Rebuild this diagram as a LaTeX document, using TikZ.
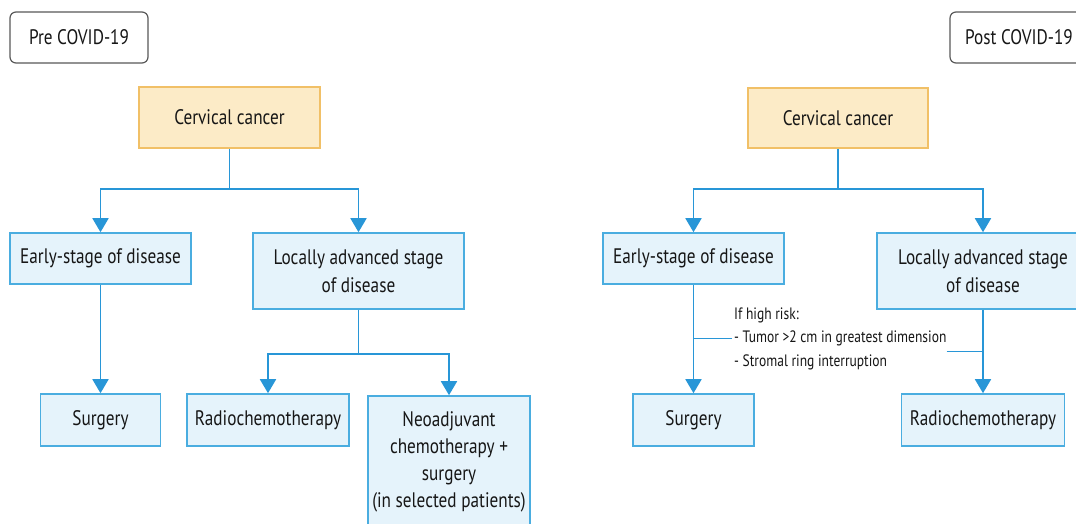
\documentclass[tikz,border=0pt]{standalone}
\usepackage{fontspec}
\setmainfont{PT Sans}[FakeStretch=0.82]
\usepackage{tikz}
\usetikzlibrary{arrows.meta}

\definecolor{lineblue}{HTML}{2896D7}
\definecolor{boxfill}{HTML}{E5F3FB}
\definecolor{boxdraw}{HTML}{4AADE0}
\definecolor{ccfill}{HTML}{FCEBC7}
\definecolor{ccdraw}{HTML}{F1C067}
\definecolor{inktext}{HTML}{161616}

\begin{document}
\begin{tikzpicture}[x=1pt,y=-1pt,
	box/.style={draw=boxdraw,fill=boxfill,line width=1.6pt,text=inktext,align=center,inner sep=0pt,font=\fontsize{21}{28}\selectfont},
	topbox/.style={box,draw=ccdraw,fill=ccfill},
	tag/.style={draw=black!65,fill=white,rounded corners=6pt,line width=1.2pt,minimum width=138pt,minimum height=51pt,text=inktext,font=\fontsize{21}{24}\selectfont},
	link/.style={draw=lineblue,line width=1.8pt},
	arrow/.style={link,-{Triangle[width=16pt,length=14pt]}}]
	\useasboundingbox (0,0) rectangle (1076,523);
	\clip (0,0) rectangle (1076,523);
	\fill[white] (0,0) rectangle (1076,523);

	% pre covid
	\node (pre) [tag] at (79,37.5) {Pre COVID-19};
	\node (cc1) [topbox,minimum width=181pt,minimum height=61pt] at (229.5,117.5) {Cervical cancer};
	\node (early1) [box,minimum width=181pt,minimum height=51pt] at (100.5,258.5) {Early-stage of disease};
	\node (lad1) [box,minimum width=211pt,minimum height=76pt] at (358.5,271) {Locally advanced stage\\of disease};
	\node (surg1) [box,minimum width=120pt,minimum height=52pt] at (100.5,420) {Surgery};
	\node (radio1) [box,minimum width=162pt,minimum height=52pt] at (268,420) {Radiochemotherapy};
	\node (neo1) [box,minimum width=162pt,minimum height=132pt,font=\fontsize{21}{27}\selectfont] at (449,462) {Neoadjuvant\\chemotherapy +\\surgery\\(in selected patients)};

	\coordinate (fork1) at (229.5,189);
	\coordinate (fork2) at (358.5,354);
	\draw[link] (cc1) -- (fork1);
	\draw[arrow] (fork1) -| (early1);
	\draw[arrow] (fork1) -| (lad1);
	\draw[arrow] (early1) -- (surg1);
	\draw[link] (lad1) -- (fork2);
	\draw[arrow] (fork2) -| (radio1);
	\draw[arrow] (fork2) -| (neo1);

	% post covid
	\node (post) [tag] at (1019,37.5) {Post COVID-19};
	\node (cc2) [topbox,minimum width=180pt,minimum height=60pt] at (838,118) {Cervical cancer};
	\node (early2) [box,minimum width=181pt,minimum height=51pt] at (693.5,258.5) {Early-stage of disease};
	\node (lad2) [box,minimum width=212pt,minimum height=76pt] at (983,271) {Locally advanced stage\\of disease};
	\node (surg2) [box,minimum width=121pt,minimum height=52pt] at (693.5,420) {Surgery};
	\node (radio2) [box,minimum width=163pt,minimum height=52pt] at (983,420) {Radiochemotherapy};
	\node (note) [anchor=west,align=left,inner sep=0pt,text=inktext,font=\fontsize{16.5}{23.5}\selectfont] at (734,338.5) {If high risk:\\- Tumor >2 cm in greatest dimension\\- Stromal ring interruption};

	\coordinate (fork3) at (838,189);
	\coordinate (notetail) at ([yshift=-13pt]note.east);
	\draw[link] (cc2) -- (fork3);
	\draw[arrow] (fork3) -| (early2);
	\draw[arrow] (fork3) -| (lad2);
	\draw[arrow] (early2) -- (surg2);
	\draw[arrow] (lad2) -- (radio2);
	\draw[link] (early2.south |- note.west) -- ([xshift=-2pt]note.west);
	\draw[link] (notetail) -- (lad2.south |- notetail);
\end{tikzpicture}
\end{document}
